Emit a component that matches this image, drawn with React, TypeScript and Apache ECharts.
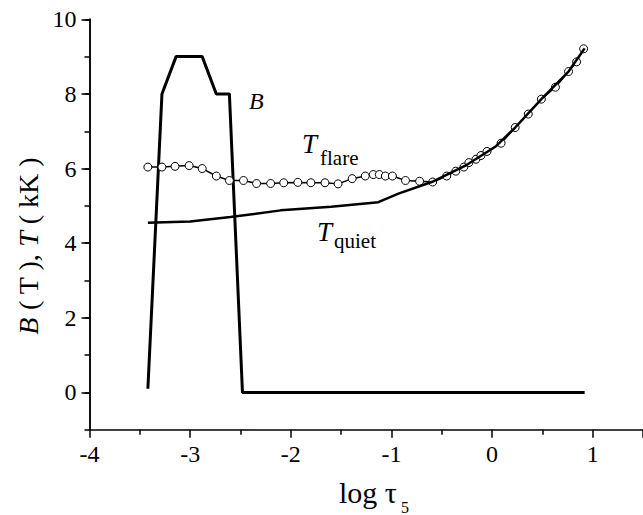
import React, { useEffect, useRef } from "react";
import * as echarts from "echarts";

// B (T) profile
const bX = [-3.42, -3.28, -3.14, -3.0, -2.88, -2.74, -2.61, -2.48, 0.92];
const bY = [0.1, 8, 9, 9, 9, 8, 8, 0, 0];

// T_flare (kK), open circles
const flareX = [-3.42, -3.28, -3.15, -3.01, -2.88, -2.74, -2.61, -2.47, -2.34, -2.2, -2.07, -1.93, -1.8, -1.66, -1.53, -1.39, -1.26, -1.18, -1.12, -1.06, -0.99, -0.86, -0.72, -0.59, -0.45, -0.36, -0.28, -0.23, -0.16, -0.11, -0.05, 0.09, 0.23, 0.36, 0.49, 0.63, 0.76, 0.84, 0.91];
const flareY = [6.04, 6.04, 6.06, 6.08, 6.0, 5.8, 5.68, 5.68, 5.6, 5.6, 5.62, 5.63, 5.62, 5.62, 5.59, 5.73, 5.8, 5.84, 5.84, 5.8, 5.8, 5.68, 5.66, 5.64, 5.8, 5.93, 6.04, 6.16, 6.25, 6.35, 6.46, 6.68, 7.1, 7.46, 7.86, 8.18, 8.6, 8.86, 9.21];

// T_quiet (kK)
const quietX = [-3.42, -3.0, -2.6, -2.1, -1.6, -1.13, -0.93, -0.6, -0.27, 0.04, 0.23, 0.49, 0.76, 0.92];
const quietY = [4.55, 4.58, 4.7, 4.88, 4.98, 5.1, 5.33, 5.64, 6.07, 6.6, 7.1, 7.86, 8.6, 9.22];

// ticks
const yMajor = [0, 2, 4, 6, 8, 10];

const FONT = "'Liberation Serif', 'Times New Roman', serif";

const zip = (xs: number[], ys: number[]) => xs.map((x, i) => [x, ys[i]]);

export default function App() {
  const ref = useRef<HTMLDivElement>(null);
  useEffect(() => {
    if (!ref.current) return;
    const chart = echarts.init(ref.current, null, { renderer: "svg" });
    const tickLine = { color: "#000", width: 1.5 };
    chart.setOption({
      animation: false,
      backgroundColor: "#fff",
      textStyle: { fontFamily: FONT, color: "#000" },
      grid: { left: 89.5, right: -1.5, top: 19.3, bottom: 85.2, containLabel: false },
      xAxis: [
        {
          type: "value",
          min: -4,
          max: 1.5,
          interval: 1,
          axisLine: { show: true, onZero: false, lineStyle: tickLine },
          axisTick: { show: true, inside: false, length: 8, lineStyle: tickLine },
          minorTick: { show: true, splitNumber: 2, length: 5, lineStyle: tickLine },
          axisLabel: { fontFamily: FONT, fontSize: 24, color: "#000", margin: 12, showMaxLabel: false, formatter: (v: number) => String(v) },
          splitLine: { show: false },
          minorSplitLine: { show: false },
        },
      ],
      yAxis: [
        {
          type: "value",
          min: -1,
          max: 10,
          interval: 1,
          position: "left",
          axisLine: { show: true, onZero: false, lineStyle: tickLine },
          axisTick: { show: true, inside: false, length: 5, lineStyle: tickLine },
          axisLabel: { fontFamily: FONT, fontSize: 24, color: "#000", customValues: yMajor, margin: 13, formatter: (v: number) => String(v) },
          splitLine: { show: false },
        },
        {
          type: "value",
          min: -1,
          max: 10,
          interval: 1,
          position: "left",
          offset: 0,
          axisLine: { show: true, onZero: false, lineStyle: tickLine },
          axisTick: { show: true, inside: false, length: 8, customValues: yMajor, lineStyle: tickLine },
          axisLabel: { show: false },
          splitLine: { show: false },
        },
      ],
      series: [
        {
          type: "line",
          name: "B",
          data: zip(bX, bY),
          symbol: "none",
          lineStyle: { color: "#000", width: 3 },
          z: 2,
        },
        {
          type: "line",
          name: "Tflare",
          data: zip(flareX, flareY),
          symbol: "circle",
          symbolSize: 8,
          showSymbol: true,
          itemStyle: { color: "#fff", borderColor: "#000", borderWidth: 1 },
          lineStyle: { color: "#000", width: 1.5 },
          z: 3,
        },
        {
          type: "line",
          name: "Tquiet",
          data: zip(quietX, quietY),
          symbol: "none",
          lineStyle: { color: "#000", width: 2.5 },
          z: 4,
        },
        {
          type: "line",
          name: "majorTickHolder",
          xAxisIndex: 0,
          yAxisIndex: 1,
          data: [],
          symbol: "none",
          silent: true,
        },
      ],
      graphic: [
        { type: "text", x: 249, y: 101, style: { text: "B", fontFamily: FONT, fontStyle: "italic", fontSize: 24, fill: "#000", align: "left", verticalAlign: "middle" } },
        { type: "text", x: 302, y: 144, style: { text: "T", fontFamily: FONT, fontStyle: "italic", fontSize: 27, fill: "#000", align: "left", verticalAlign: "middle" } },
        { type: "text", x: 320, y: 157.5, style: { text: "flare", fontFamily: FONT, fontSize: 21, fill: "#000", align: "left", verticalAlign: "middle" } },
        { type: "text", x: 317, y: 232, style: { text: "T", fontFamily: FONT, fontStyle: "italic", fontSize: 27, fill: "#000", align: "left", verticalAlign: "middle" } },
        { type: "text", x: 334, y: 240.5, style: { text: "quiet", fontFamily: FONT, fontSize: 21, fill: "#000", align: "left", verticalAlign: "middle" } },
        { type: "text", x: 339, y: 492, style: { text: "log τ", fontFamily: FONT, fontSize: 30, fill: "#000", align: "left", verticalAlign: "middle" } },
        { type: "text", x: 401, y: 507, style: { text: "5", fontFamily: FONT, fontSize: 16, fill: "#000", align: "left", verticalAlign: "middle" } },
        {
          type: "text",
          x: 28,
          y: 246,
          rotation: Math.PI / 2,
          style: {
            text: "{i|B}{n| ( T ), }{i|T}{n| ( kK )}",
            fontFamily: FONT,
            fontSize: 28,
            fill: "#000",
            align: "center",
            verticalAlign: "middle",
            rich: {
              i: { fontFamily: FONT, fontSize: 28, fontStyle: "italic", fill: "#000" },
              n: { fontFamily: FONT, fontSize: 28, fill: "#000" },
            },
          },
        },
      ],
    });
    return () => chart.dispose();
  }, []);
  return <div ref={ref} style={{ position: "absolute", left: 0, top: 0, width: 643, height: 515 }} />;
}
